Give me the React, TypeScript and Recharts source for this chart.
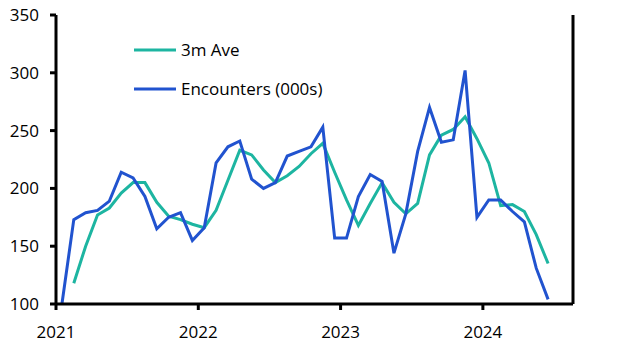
import React from "react";
import { LineChart, Line, XAxis, YAxis } from "recharts";

// Monthly data, Jan 2021 – Jun 2024
const startYear = 2021;
const encounters = [
  100, 173, 179, 181, 189, 214, 209, 193, 165, 175, 179, 155,
  166, 222, 236, 241, 208, 200, 205, 228, 232, 236, 253, 157,
  157, 193, 212, 206, 144, 178, 232, 270, 240, 242, 302, 175,
  190, 190, 180, 171, 131, 104,
];
const threeMonthAve = [
  null, 118, 150, 177, 183, 196, 205, 205, 188, 176, 173, 169,
  166, 181, 207, 233, 229, 216, 205, 211, 219, 230, 239, 214,
  190, 168, 187, 205, 188, 178, 187, 229, 246, 251, 262, 243,
  222, 185, 186, 180, 160, 135,
];
const yTicks = [100, 150, 200, 250, 300, 350];
const xTicks = [0, 12, 24, 36];
const seriesNames = ["3m Ave", "Encounters (000s)"];

const TEAL = "#1db5a1";
const BLUE = "#2153cf";
const FONT = "'Open Sans', 'Noto Sans', sans-serif";

const data = encounters.map((v, i) => ({
  x: i + 0.5,
  enc: v,
  ave: threeMonthAve[i],
}));

const legendItems = [
  { name: seriesNames[0], color: TEAL },
  { name: seriesNames[1], color: BLUE },
];

export default function App() {
  const tickStyle = { fontFamily: FONT, fontSize: 17, fill: "#000" };
  const axisLine = { stroke: "#000", strokeWidth: 3 };
  return (
    <div style={{ position: "absolute", left: 0, top: 0, width: 630, height: 355, background: "#fff" }}>
      <LineChart
        width={630}
        height={355}
        data={data}
        margin={{ top: 15, right: 0, bottom: 21, left: 0 }}
      >
        <XAxis
          dataKey="x"
          type="number"
          domain={[0, 43.6]}
          ticks={xTicks}
          tickFormatter={(v: number) => String(startYear + v / 12)}
          axisLine={axisLine}
          tickLine={axisLine}
          tickSize={6}
          tickMargin={16}
          tick={tickStyle}
          height={30}
          allowDataOverflow
        />
        <YAxis
          yAxisId="left"
          orientation="left"
          domain={[100, 350]}
          ticks={yTicks}
          axisLine={axisLine}
          tickLine={axisLine}
          tickSize={6}
          tickMargin={11}
          tick={tickStyle}
          width={56}
          interval={0}
        />
        <YAxis
          yAxisId="right"
          orientation="right"
          domain={[100, 350]}
          ticks={yTicks}
          axisLine={axisLine}
          tickLine={axisLine}
          tickSize={6}
          tickMargin={10}
          tick={tickStyle}
          width={57}
          interval={0}
        />
        <Line
          yAxisId="left"
          dataKey="ave"
          name={seriesNames[0]}
          stroke={TEAL}
          strokeWidth={3}
          dot={false}
          isAnimationActive={false}
          connectNulls={false}
        />
        <Line
          yAxisId="left"
          dataKey="enc"
          name={seriesNames[1]}
          stroke={BLUE}
          strokeWidth={3}
          dot={false}
          isAnimationActive={false}
        />
      </LineChart>
      <div
        style={{
          position: "absolute",
          left: 134,
          top: 30,
          fontFamily: FONT,
          fontSize: 17,
          color: "#000",
        }}
      >
        {legendItems.map((it) => (
          <div key={it.name} style={{ display: "flex", alignItems: "center", height: 39 }}>
            <svg width={42} height={6} style={{ display: "block" }}>
              <line x1={0} y1={3} x2={42} y2={3} stroke={it.color} strokeWidth={3} />
            </svg>
            <span style={{ marginLeft: 5, lineHeight: "20px", whiteSpace: "nowrap" }}>{it.name}</span>
          </div>
        ))}
      </div>
    </div>
  );
}
